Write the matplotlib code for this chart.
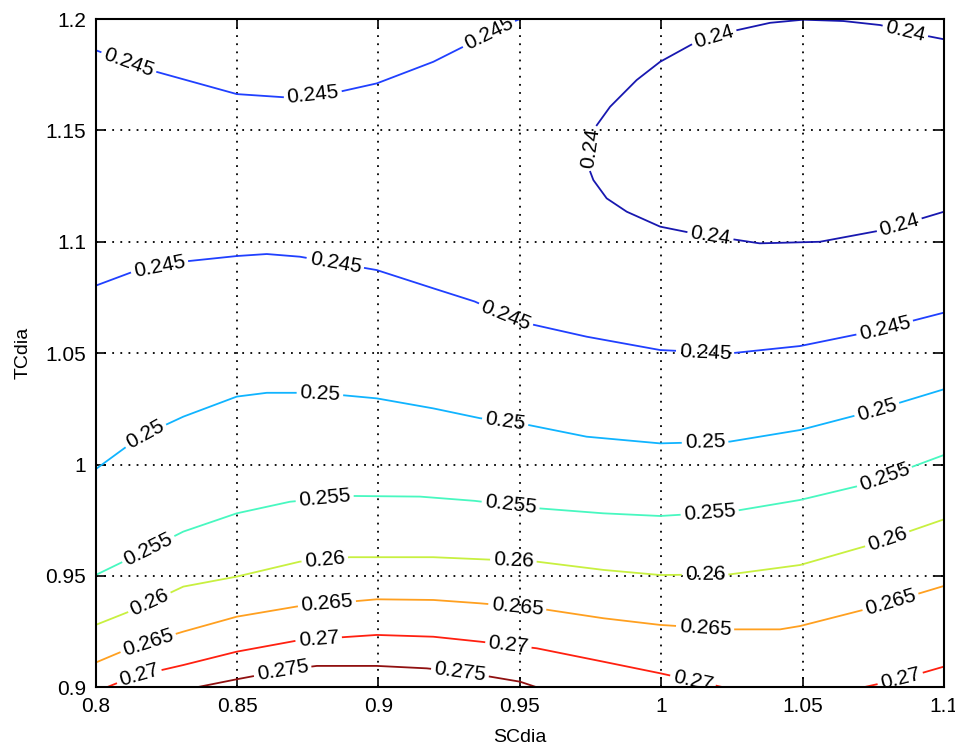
import numpy as np
import matplotlib
matplotlib.use('Agg')
import matplotlib.pyplot as plt
from matplotlib.contour import ContourSet

# contour levels and their traced lines (SCdia, TCdia)
levels = [0.24, 0.245, 0.25, 0.255, 0.26, 0.265, 0.27, 0.275]

c240_x = [1.1, 1.0891, 1.0774, 1.0644, 1.0502, 1.0385, 1.0243, 1.0125, 0.9996, 0.9913,
          0.9819, 0.9760, 0.9742, 0.9760, 0.9807, 0.9878, 0.9996, 1.0113, 1.0348, 1.0561,
          1.0785, 1.1]
c240_y = [1.1909, 1.1936, 1.1973, 1.1991, 1.1997, 1.1983, 1.1943, 1.1898, 1.1808, 1.1726,
          1.1606, 1.1502, 1.1337, 1.1277, 1.1195, 1.1135, 1.1068, 1.1038, 1.0993, 1.1000,
          1.1053, 1.1135]

c245a_x = [0.8, 0.8192, 0.8499, 0.8675, 0.8839, 0.8994, 0.9194, 0.9335, 0.9477, 0.95]
c245a_y = [1.186, 1.1771, 1.1663, 1.1648, 1.1667, 1.1711, 1.1808, 1.1898, 1.1988, 1.2]

c245b_x = [0.8, 0.8133, 0.8310, 0.8499, 0.8605, 0.8722, 0.8994, 0.9194, 0.9340, 0.9501,
           0.9736, 0.9996, 1.0243, 1.0491, 1.0738, 1.1]
c245b_y = [1.0803, 1.0866, 1.0911, 1.0936, 1.0945, 1.0933, 1.0873, 1.0791, 1.0732, 1.0641,
           1.0574, 1.0514, 1.0499, 1.0532, 1.0596, 1.0682]

c250_x = [0.8, 0.8157, 0.8310, 0.8499, 0.8605, 0.8782, 0.8994, 0.9194, 0.9359, 0.9501,
          0.9736, 0.9996, 1.0243, 1.0491, 1.0738, 1.1]
c250_y = [0.9979, 1.0125, 1.0215, 1.0305, 1.0322, 1.0322, 1.0297, 1.0252, 1.0208, 1.0185,
          1.0125, 1.0095, 1.0103, 1.0155, 1.0237, 1.0338]

c255_x = [0.8, 0.8133, 0.8310, 0.8499, 0.8687, 0.8899, 0.9147, 0.9340, 0.9560, 0.9795,
          0.9996, 1.0243, 1.0491, 1.0738, 1.0856, 1.1]
c255_y = [0.9504, 0.9586, 0.9699, 0.9781, 0.9833, 0.9859, 0.9856, 0.9837, 0.9804, 0.9781,
          0.9769, 0.9788, 0.9841, 0.9916, 0.9975, 1.0043]

c260_x = [0.8, 0.8133, 0.8310, 0.8499, 0.8722, 0.8899, 0.9194, 0.9359, 0.9560, 0.9795,
          0.9996, 1.0243, 1.0491, 1.0738, 1.1]
c260_y = [0.9280, 0.9347, 0.9452, 0.9497, 0.9564, 0.9584, 0.9584, 0.9575, 0.9564, 0.9527,
          0.9504, 0.9507, 0.9549, 0.9639, 0.9754]

c265_x = [0.8, 0.8133, 0.8310, 0.8499, 0.8722, 0.8994, 0.9194, 0.9359, 0.9560, 0.9795,
          0.9996, 1.0243, 1.0420, 1.0491, 1.0738, 1.1]
c265_y = [0.9111, 0.9182, 0.9250, 0.9317, 0.9365, 0.9395, 0.9392, 0.9377, 0.9355, 0.9310,
          0.9280, 0.9260, 0.9260, 0.9275, 0.9355, 0.9455]

c270a_x = [0.8039, 0.8133, 0.8310, 0.8499, 0.8722, 0.8994, 0.9194, 0.9359, 0.9560, 0.9795,
           0.9996, 1.0220]
c270a_y = [0.9, 0.9048, 0.9100, 0.9160, 0.9212, 0.9235, 0.9227, 0.9205, 0.9175, 0.9115,
           0.9063, 0.9]
c270b_x = [1.0715, 1.0856, 1.1]
c270b_y = [0.9, 0.9040, 0.9093]

c275_x = [0.8357, 0.8499, 0.8687, 0.8782, 0.8994, 0.9171, 0.9324, 0.9501, 0.9560]
c275_y = [0.9, 0.9036, 0.9081, 0.9096, 0.9096, 0.9085, 0.9063, 0.9025, 0.9]

# where the level labels sit along the lines
label_pos = [
    (0.8111, 1.1785), (0.8769, 1.1646), (0.9390, 1.1935),
    (1.0190, 1.1906), (1.0862, 1.1940), (0.9752, 1.1420), (1.0172, 1.1010), (1.0845, 1.1062),
    (0.8227, 1.0880), (0.8846, 1.0895), (0.9448, 1.0665), (1.0155, 1.0502), (1.0791, 1.0610),
    (0.8175, 1.0133), (0.8793, 1.0320), (0.9448, 1.0191), (1.0155, 1.0098), (1.0763, 1.0245),
    (0.8175, 0.9648), (0.8810, 0.9845), (0.9466, 0.9805), (1.0172, 0.9772), (1.0791, 0.9939),
    (0.8186, 0.9392), (0.8810, 0.9575), (0.9477, 0.9568), (1.0155, 0.9505), (1.0798, 0.9670),
    (0.8182, 0.9213), (0.8817, 0.9385), (0.9491, 0.9363), (1.0155, 0.9266), (1.0809, 0.9390),
    (0.8157, 0.9030), (0.8788, 0.9225), (0.9459, 0.9185), (1.0113, 0.9035), (1.0845, 0.9040),
    (0.8663, 0.9060), (0.9289, 0.9075),
]

line_colors = ['#1818b0', '#2040ff', '#10b4ff', '#48f8c0', '#c8f040',
               '#ffa020', '#ff2010', '#901010']

plt.rcParams['font.family'] = ['Liberation Sans', 'DejaVu Sans']

def seg(x, y):
    return np.column_stack([x, y])

allsegs = [
    [seg(c240_x, c240_y)],
    [seg(c245a_x, c245a_y), seg(c245b_x, c245b_y)],
    [seg(c250_x, c250_y)],
    [seg(c255_x, c255_y)],
    [seg(c260_x, c260_y)],
    [seg(c265_x, c265_y)],
    [seg(c270a_x, c270a_y), seg(c270b_x, c270b_y)],
    [seg(c275_x, c275_y)],
]

fig = plt.figure(figsize=(9.55, 7.46), dpi=100)
ax = fig.add_axes([0.1002, 0.0787, 0.8883, 0.8958])
ax.set_xlim(0.8, 1.1)
ax.set_ylim(0.9, 1.2)

cs = ContourSet(ax, levels, allsegs, colors=line_colors, linewidths=1.3)
ax.clabel(cs, manual=label_pos, fmt='%g', inline=True, inline_spacing=3,
          fontsize=15, colors='k')

xt = [0.8, 0.85, 0.9, 0.95, 1.0, 1.05, 1.1]
yt = [0.9, 0.95, 1.0, 1.05, 1.1, 1.15, 1.2]
ax.set_xticks(xt)
ax.set_xticklabels(['%g' % v for v in xt])
ax.set_yticks(yt)
ax.set_yticklabels(['%g' % v for v in yt])
ax.tick_params(direction='in', length=7, width=1.2, top=True, right=True,
               labelsize=15, pad=7)
ax.grid(True, color='k', linestyle=(0, (1, 3.5)), linewidth=1.3)
for s in ax.spines.values():
    s.set_linewidth(1.5)

ax.set_xlabel('SCdia', fontsize=14, labelpad=9)
ax.set_ylabel('TCdia', fontsize=14, labelpad=10)

fig.savefig('out.png', dpi=100)
